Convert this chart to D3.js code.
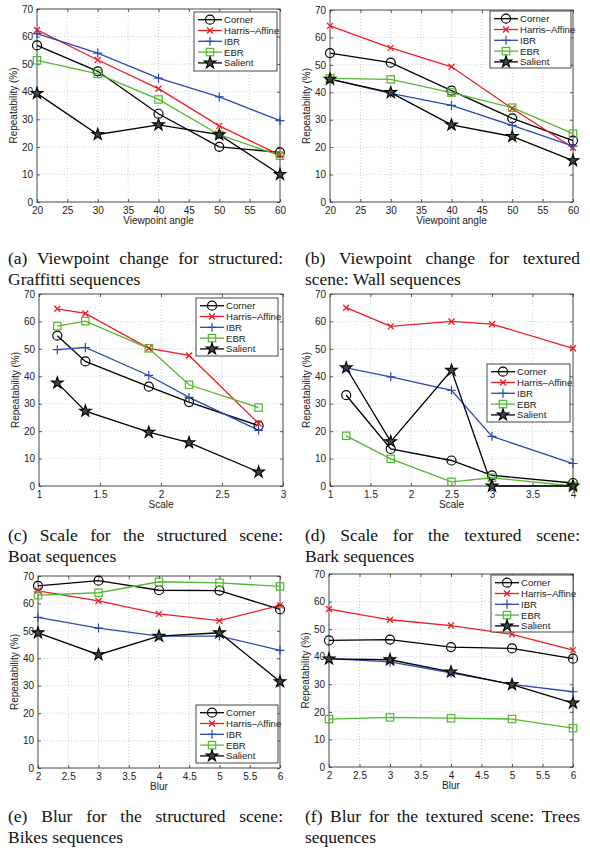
<!DOCTYPE html>
<html><head><meta charset="utf-8">
<script src="https://cdn.jsdelivr.net/npm/d3@7/dist/d3.min.js"></script>
<style>body{margin:0;background:#fff}svg{display:block}</style>
</head><body><svg id="c" width="590" height="850"></svg>
<script>
// ---------- data ----------
const seriesNames = ["Corner", "Harris\u2013Affine", "IBR", "EBR", "Salient"];
const seriesColors = ["#000000", "#ee1c24", "#2e48b4", "#52b830", "#000000"];
const seriesMarkers = ["circle", "x", "plus", "square", "star"];

const yTicks = [0, 10, 20, 30, 40, 50, 60, 70];

const viewpointAngles = [20, 30, 40, 50, 60];
const viewpointTicks = [20, 25, 30, 35, 40, 45, 50, 55, 60];
// rows: Corner, Harris-Affine, IBR, EBR, Salient
const graffitiValues = [
  [56.8, 47.4, 32.0, 20.0, 18.0],
  [62.4, 51.5, 41.1, 27.6, 17.0],
  [61.1, 54.0, 44.9, 38.1, 29.5],
  [51.4, 46.5, 37.2, 24.4, 16.8],
  [39.4, 24.5, 28.0, 24.4, 10.0]
];
const wallValues = [
  [54.3, 50.8, 40.6, 30.5, 22.4],
  [64.2, 56.2, 49.3, 34.1, 19.8],
  [44.8, 39.6, 35.2, 27.9, 20.4],
  [45.1, 44.7, 39.9, 34.4, 24.9],
  [44.8, 39.9, 28.1, 23.9, 15.1]
];

const boatScales = [1.15, 1.38, 1.9, 2.23, 2.8];
const boatTicks = [1, 1.5, 2, 2.5, 3];
const boatValues = [
  [54.8, 45.4, 36.2, 30.6, 22.0],
  [64.6, 62.9, 50.2, 47.6, 22.8],
  [49.7, 50.5, 40.3, 32.3, 20.3],
  [58.3, 60.1, 50.2, 36.9, 28.6],
  [37.6, 27.3, 19.6, 15.8, 5.1]
];

const barkScales = [1.2, 1.75, 2.5, 3, 4];
const barkTicks = [1, 1.5, 2, 2.5, 3, 3.5, 4];
const barkValues = [
  [33.1, 13.5, 9.3, 3.9, 1.1],
  [65.0, 58.2, 60.0, 59.0, 50.2],
  [43.1, 39.8, 34.9, 18.1, 8.2],
  [18.3, 9.9, 1.5, 3.0, 0.0],
  [43.1, 16.2, 42.2, 0.0, 0.0]
];

const blurLevels = [2, 3, 4, 5, 6];
const blurTicks = [2, 2.5, 3, 3.5, 4, 4.5, 5, 5.5, 6];
const bikesValues = [
  [66.4, 68.3, 64.8, 64.7, 57.8],
  [64.6, 60.9, 56.2, 53.7, 59.3],
  [54.9, 51.0, 48.1, 48.1, 42.9],
  [63.0, 63.9, 67.9, 67.5, 66.2],
  [49.3, 41.3, 48.1, 49.3, 31.5]
];
const treesValues = [
  [45.9, 46.2, 43.5, 43.0, 39.3],
  [57.3, 53.4, 51.3, 48.1, 42.4],
  [39.3, 38.1, 34.1, 30.0, 27.3],
  [17.4, 18.0, 17.7, 17.4, 14.1],
  [39.2, 38.9, 34.5, 29.9, 23.2]
];

const captionLines = [
  ["(a)  Viewpoint change for structured:", "Graffitti sequences"],
  ["(b)  Viewpoint change for textured", "scene: Wall sequences"],
  ["(c)  Scale for the structured scene:", "Boat sequences"],
  ["(d)  Scale for the textured scene:", "Bark sequences"],
  ["(e)  Blur for the structured scene:", "Bikes sequences"],
  ["(f)  Blur for the textured scene: Trees", "sequences"]
];

// ---------- layout ----------
const panels = [
  {xs: viewpointAngles, ticks: viewpointTicks, vals: graffitiValues, xlabel: "Viewpoint angle",
   l: 37, r: 280, t: 9, b: 202, leg: [194, 12, 83, 59]},
  {xs: viewpointAngles, ticks: viewpointTicks, vals: wallValues, xlabel: "Viewpoint angle",
   l: 330, r: 573, t: 10, b: 202, leg: [490, 11, 81, 57]},
  {xs: boatScales, ticks: boatTicks, vals: boatValues, xlabel: "Scale",
   l: 39, r: 283, t: 294, b: 486, leg: [196, 298, 82, 58]},
  {xs: barkScales, ticks: barkTicks, vals: barkValues, xlabel: "Scale",
   l: 330, r: 573, t: 294, b: 486, leg: [487, 364, 83, 58]},
  {xs: blurLevels, ticks: blurTicks, vals: bikesValues, xlabel: "Blur",
   l: 38, r: 280, t: 576, b: 768, leg: [196, 705, 82, 58]},
  {xs: blurLevels, ticks: blurTicks, vals: treesValues, xlabel: "Blur",
   l: 329, r: 573, t: 574, b: 767, leg: [491, 575, 82, 57]}
];

const svg = d3.select("#c");
const FONT = "'Liberation Sans', Arial, Helvetica, sans-serif";

function drawMarker(g, type, x, y, color) {
  if (type === "circle") {
    g.append("circle").attr("cx", x).attr("cy", y).attr("r", 4.5)
      .attr("fill", "none").attr("stroke", color).attr("stroke-width", 1.2);
  } else if (type === "x") {
    const s = 3;
    g.append("path").attr("d", `M${x-s},${y-s}L${x+s},${y+s}M${x-s},${y+s}L${x+s},${y-s}`)
      .attr("stroke", color).attr("stroke-width", 1.3).attr("fill", "none");
  } else if (type === "plus") {
    const s = 4.5;
    g.append("path").attr("d", `M${x-s},${y}L${x+s},${y}M${x},${y-s}L${x},${y+s}`)
      .attr("stroke", color).attr("stroke-width", 1.2).attr("fill", "none");
  } else if (type === "square") {
    const s = 3.7;
    g.append("rect").attr("x", x - s).attr("y", y - s).attr("width", 2 * s).attr("height", 2 * s)
      .attr("fill", "none").attr("stroke", color).attr("stroke-width", 1.2);
  } else if (type === "star") {
    g.append("path").attr("d", d3.symbol(d3.symbolStar, 42)())
      .attr("transform", `translate(${x},${y})`)
      .attr("fill", "#444").attr("stroke", color).attr("stroke-width", 1.1);
  }
}

panels.forEach(p => {
  const g = svg.append("g");
  const x = d3.scaleLinear().domain(d3.extent(p.ticks)).range([p.l, p.r]);
  const y = d3.scaleLinear().domain([0, 70]).range([p.b, p.t]);

  // grid
  const grid = g.append("g").attr("stroke", "#b8b8b8").attr("stroke-width", 0.7)
    .attr("stroke-dasharray", "1,2");
  p.ticks.slice(1, -1).forEach(t => grid.append("line")
    .attr("x1", x(t)).attr("x2", x(t)).attr("y1", p.t).attr("y2", p.b));
  yTicks.slice(1, -1).forEach(t => grid.append("line")
    .attr("x1", p.l).attr("x2", p.r).attr("y1", y(t)).attr("y2", y(t)));

  // axes via d3
  g.append("g").attr("transform", `translate(0,${p.b})`)
    .call(d3.axisBottom(x).tickValues(p.ticks).tickSizeInner(-3).tickSizeOuter(0).tickPadding(5).tickFormat(d => String(d)));
  g.append("g").attr("transform", `translate(${p.l},0)`)
    .call(d3.axisLeft(y).tickValues(yTicks).tickSizeInner(-3).tickSizeOuter(0).tickPadding(4).tickFormat(d => String(d)));
  g.append("g").attr("transform", `translate(0,${p.t})`)
    .call(d3.axisTop(x).tickValues(p.ticks).tickSizeInner(-3).tickSizeOuter(0).tickFormat(""));
  g.append("g").attr("transform", `translate(${p.r},0)`)
    .call(d3.axisRight(y).tickValues(yTicks).tickSizeInner(-3).tickSizeOuter(0).tickFormat(""));
  g.selectAll(".domain").remove();
  g.selectAll(".tick line").attr("stroke", "#333").attr("stroke-width", 0.8);
  g.selectAll(".tick text").attr("font-family", FONT).attr("font-size", 10).attr("fill", "#222");

  g.append("rect").attr("x", p.l).attr("y", p.t).attr("width", p.r - p.l).attr("height", p.b - p.t)
    .attr("fill", "none").attr("stroke", "#333").attr("stroke-width", 0.9);

  // axis labels
  g.append("text").attr("x", (p.l + p.r) / 2).attr("y", p.b + 22)
    .attr("text-anchor", "middle").attr("font-family", FONT).attr("font-size", 10).attr("fill", "#222")
    .text(p.xlabel);
  g.append("text").attr("transform", `translate(${p.l - 20},${(p.t + p.b) / 2}) rotate(-90)`)
    .attr("text-anchor", "middle").attr("font-family", FONT).attr("font-size", 10).attr("fill", "#222")
    .text("Repeatability (%)");

  // series
  const line = d3.line().x((d, i) => x(p.xs[i])).y(d => y(d));
  p.vals.forEach((vals, si) => {
    g.append("path").attr("d", line(vals)).attr("fill", "none")
      .attr("stroke", seriesColors[si]).attr("stroke-width", 1.3);
  });
  p.vals.forEach((vals, si) => {
    vals.forEach((v, i) => drawMarker(g, seriesMarkers[si], x(p.xs[i]), y(v), seriesColors[si]));
  });

  // legend
  const [lx, ly, lw, lh] = p.leg;
  const lg = g.append("g");
  lg.append("rect").attr("x", lx).attr("y", ly).attr("width", lw).attr("height", lh)
    .attr("fill", "#fff").attr("stroke", "#333").attr("stroke-width", 0.9);
  seriesNames.forEach((name, si) => {
    const cy = ly + 7.7 + si * 10.8;
    lg.append("line").attr("x1", lx + 4).attr("x2", lx + 28).attr("y1", cy).attr("y2", cy)
      .attr("stroke", seriesColors[si]).attr("stroke-width", 1.3);
    drawMarker(lg, seriesMarkers[si], lx + 16, cy, seriesColors[si]);
    lg.append("text").attr("x", lx + 30).attr("y", cy + 3.5)
      .attr("font-family", FONT).attr("font-size", 9.6).attr("fill", "#222").text(name);
  });
});

// ---------- captions ----------
const CFONT = "'Liberation Serif', 'Times New Roman', serif";
const CSIZE = 17.5;
const capPos = [
  [8, 283, 264], [305, 580, 264],
  [8, 283, 541], [305, 580, 541],
  [8, 283, 822], [305, 580, 822]
];
const LINEH = 21;
function justify(words, x0, x1, yb) {
  const g = svg.append("g").attr("font-family", CFONT).attr("font-size", CSIZE).attr("fill", "#111");
  const nodes = words.map(w => g.append("text").attr("y", yb).text(w));
  const widths = nodes.map(n => n.node().getComputedTextLength());
  const total = d3.sum(widths);
  const gap = (x1 - x0 - total) / (words.length - 1);
  let cx = x0;
  nodes.forEach((n, i) => { n.attr("x", cx); cx += widths[i] + gap; });
}
captionLines.forEach((lines, ci) => {
  const [x0, x1, yb] = capPos[ci];
  justify(lines[0].split(/\s+/), x0, x1, yb);
  svg.append("text").attr("x", x0).attr("y", yb + LINEH)
    .attr("font-family", CFONT).attr("font-size", CSIZE).attr("fill", "#111").text(lines[1]);
});
</script></body></html>
